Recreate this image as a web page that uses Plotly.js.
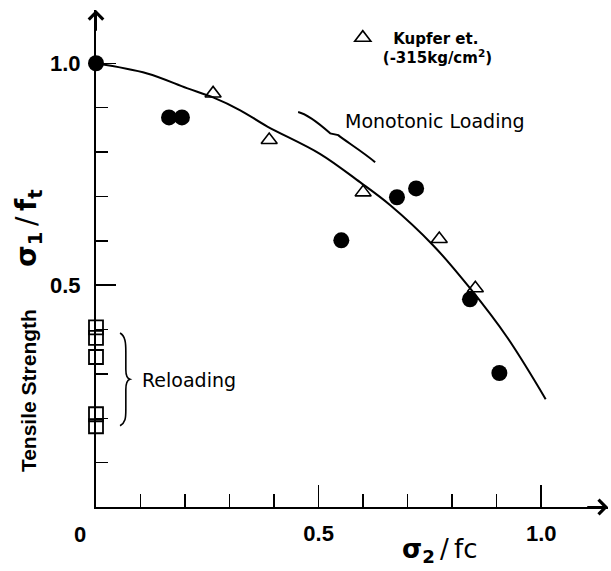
<!DOCTYPE html>
<html>
<head>
<meta charset="utf-8">
<script src="https://cdn.plot.ly/plotly-3.0.1.min.js"></script>
<style>html,body{margin:0;padding:0;background:#fff;}#chart{width:611px;height:571px;}</style>
</head>
<body>
<div id="chart"></div>
<script>
// ---- data ----
const curveX = [0, 0.115, 0.204, 0.263, 0.324, 0.384, 0.503, 0.593, 0.661, 0.757, 0.840, 0.923, 1.01];
const curveY = [1.0, 0.977, 0.944, 0.923, 0.894, 0.858, 0.796, 0.732, 0.680, 0.590, 0.493, 0.383, 0.243];

const monoX = [0, 0.164, 0.193, 0.551, 0.676, 0.719, 0.840, 0.906];
const monoY = [1.0, 0.878, 0.878, 0.601, 0.698, 0.718, 0.468, 0.302];

const kupferX = [0.263, 0.389, 0.600, 0.771, 0.852];
const kupferY = [0.932, 0.827, 0.709, 0.604, 0.493];

const reloadX = [0, 0, 0, 0, 0];
const reloadY = [0.405, 0.381, 0.338, 0.209, 0.182];

const xMajorTicks = [0.5, 1.0];
const xMajorLabels = ['0.5', '1.0'];
const xMinorTicks = [0.1, 0.2, 0.3, 0.4, 0.6, 0.7, 0.8, 0.9];
const yMajorTicks = [0.5, 1.0];
const yMajorLabels = ['0.5', '1.0'];
const yMinorTicks = [0.1, 0.2, 0.3, 0.4, 0.6, 0.7, 0.8, 0.9];

const legendName = '\u00a0\u00a0Kupfer et.<br>(-315kg/cm<sup>2</sup>)';

// ---- styling ----
const FONT = 'Liberation Sans, Arial, sans-serif';
const WIDE = 'DejaVu Sans, Liberation Sans, sans-serif';
const TS = '\u2009';

const traces = [
  {x: curveX, y: curveY, mode: 'lines', type: 'scatter', line: {color: '#000', width: 2, shape: 'spline', smoothing: 1.0}, showlegend: false, hoverinfo: 'skip', cliponaxis: false},
  {x: monoX, y: monoY, mode: 'markers', type: 'scatter', marker: {symbol: 'circle', size: 16, color: '#000'}, showlegend: false, cliponaxis: false},
  {x: kupferX, y: kupferY, mode: 'markers', type: 'scatter', name: legendName, marker: {symbol: 'triangle-up-open', size: 14, color: '#000', line: {width: 1.6, color: '#000'}}, showlegend: true, cliponaxis: false},
  {x: reloadX, y: reloadY, mode: 'markers', type: 'scatter', marker: {symbol: 'square-open', size: 14, color: '#000', line: {width: 1.8, color: '#000'}}, showlegend: false, cliponaxis: false}
];

const braceMono = 'M 0.454 0.890 C 0.475 0.885, 0.500 0.865, 0.526 0.842 L 0.544 0.838 C 0.560 0.825, 0.600 0.800, 0.627 0.777';
const braceReload = 'M 0.054 0.392 C 0.066 0.385, 0.067 0.370, 0.067 0.350 L 0.067 0.310 C 0.067 0.295, 0.070 0.290, 0.076 0.288 C 0.070 0.286, 0.067 0.280, 0.067 0.265 L 0.067 0.220 C 0.067 0.200, 0.066 0.190, 0.054 0.183';

const layout = {
  width: 611, height: 571,
  margin: {l: 96, r: 3, t: 10, b: 64},
  paper_bgcolor: '#fff', plot_bgcolor: '#fff',
  font: {family: FONT, color: '#000'},
  showlegend: true,
  legend: {x: 0.482, y: 0.977, xanchor: 'left', yanchor: 'top', bgcolor: 'rgba(0,0,0,0)', font: {family: WIDE, size: 15, weight: 700, color: '#000'}, valign: 'top', itemwidth: 30, tracegroupgap: 0},
  xaxis: {
    range: [0, 1.15], showgrid: false, zeroline: false,
    showline: true, linecolor: '#000', linewidth: 2,
    tickmode: 'array', tickvals: xMajorTicks, ticktext: xMajorLabels,
    ticks: 'inside', ticklen: 22, tickwidth: 1.5, tickcolor: '#000',
    ticklabelstandoff: 6,
    tickfont: {family: FONT, size: 22, weight: 700, color: '#000'},
    minor: {tickmode: 'array', tickvals: xMinorTicks, ticks: 'inside', ticklen: 13, tickwidth: 1.5, tickcolor: '#000', showgrid: false},
    fixedrange: true
  },
  yaxis: {
    range: [0, 1.12], showgrid: false, zeroline: false,
    showline: true, linecolor: '#000', linewidth: 2,
    tickmode: 'array', tickvals: yMajorTicks, ticktext: yMajorLabels,
    ticks: 'inside', ticklen: 20, tickwidth: 1.5, tickcolor: '#000',
    ticklabelstandoff: 9,
    tickfont: {family: FONT, size: 22, weight: 700, color: '#000'},
    minor: {tickmode: 'array', tickvals: yMinorTicks, ticks: 'inside', ticklen: 12, tickwidth: 1.5, tickcolor: '#000', showgrid: false},
    fixedrange: true
  },
  shapes: [
    {type: 'path', xref: 'x', yref: 'y', path: braceMono, line: {color: '#000', width: 2}},
    {type: 'path', xref: 'x', yref: 'y', path: braceReload, line: {color: '#000', width: 1.6}}
  ],
  annotations: [
    // axis arrowheads
    {x: 1.15, y: 0, ax: 1.10, ay: 0, xref: 'x', yref: 'y', axref: 'x', ayref: 'y', showarrow: true, arrowhead: 4, arrowsize: 1.4, arrowwidth: 2, arrowcolor: '#000', text: ''},
    {x: 0, y: 1.12, ax: 0, ay: 1.07, xref: 'x', yref: 'y', axref: 'x', ayref: 'y', showarrow: true, arrowhead: 4, arrowsize: 1.4, arrowwidth: 2, arrowcolor: '#000', text: ''},
    // origin label
    {x: -0.032, y: -0.055, xref: 'paper', yref: 'paper', xanchor: 'center', yanchor: 'middle', text: '0', showarrow: false, font: {family: FONT, size: 22, weight: 700}},
    // axis titles
    {x: 0.672, y: -0.088, xref: 'paper', yref: 'paper', xanchor: 'center', yanchor: 'middle', text: '<b>σ<sub>2</sub></b>' + TS + '/' + TS + 'fc', showarrow: false, font: {family: WIDE, size: 26}},
    {x: -0.133, y: 0.561, xref: 'paper', yref: 'paper', xanchor: 'center', yanchor: 'middle', text: '<b>σ<sub>1</sub></b>' + TS + '/' + TS + '<b>f<sub>t</sub></b>', textangle: -90, showarrow: false, font: {family: WIDE, size: 28}},
    {x: -0.133, y: 0.235, xref: 'paper', yref: 'paper', xanchor: 'center', yanchor: 'middle', text: 'Tensile Strength', textangle: -90, showarrow: false, font: {family: FONT, size: 21, weight: 700}},
    // in-plot labels
    {x: 0.762, y: 0.869, xref: 'x', yref: 'y', text: 'Monotonic Loading', showarrow: false, font: {family: WIDE, size: 19}},
    {x: 0.209, y: 0.286, xref: 'x', yref: 'y', text: 'Reloading', showarrow: false, font: {family: WIDE, size: 19}}
  ]
};

Plotly.newPlot('chart', traces, layout, {displayModeBar: false, staticPlot: true});
</script>
</body>
</html>
